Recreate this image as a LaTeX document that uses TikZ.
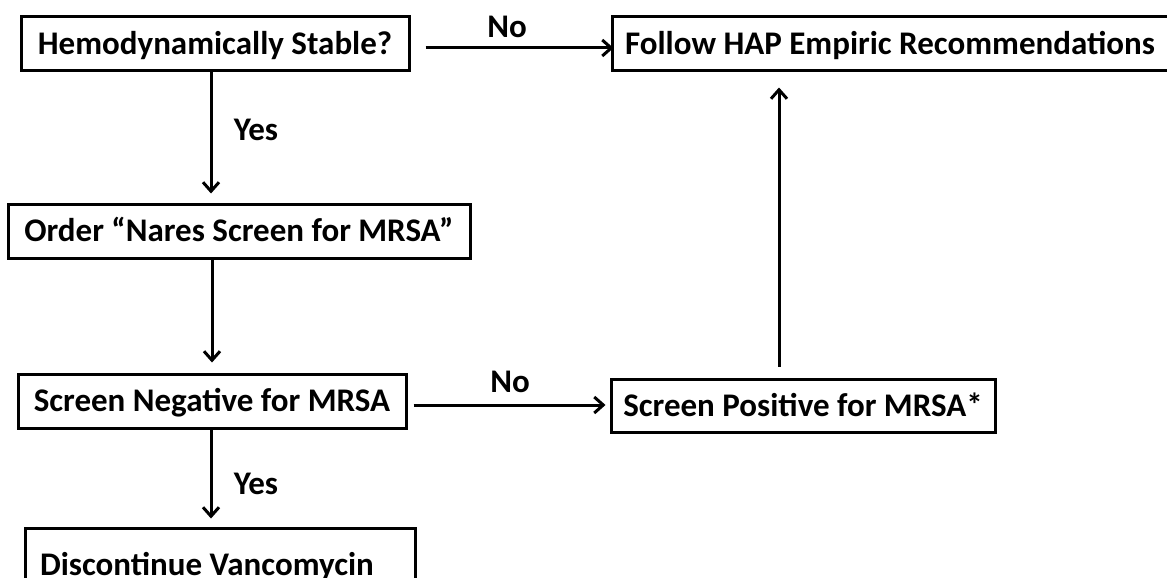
\documentclass[tikz,border=0pt]{standalone}
\usepackage{fontspec}
\setmainfont{Carlito}
\usetikzlibrary{arrows.meta}
\newcommand\flowfont{\fontsize{33}{38}\selectfont\bfseries}
\begin{document}
\begin{tikzpicture}[x=1pt,y=-1pt,
  box/.style={draw, line width=3pt, rectangle, inner sep=0pt,
    minimum height=54pt, font=\flowfont, text height=21pt, text depth=0pt},
  lbl/.style={inner sep=0pt, font=\flowfont, text height=21pt, text depth=0pt},
  arr/.style={line width=3pt,
    -{Straight Barb[length=9pt,width=16pt,line width=3pt]}}]
\useasboundingbox (0,0) rectangle (1167,578);

% decision and action boxes
\node[box, minimum width=388pt] (b1) at (215,44) {Hemodynamically Stable?};
\node[box, minimum width=556pt] (b2) at (890,44) {Follow HAP Empiric Recommendations};
\node[box, minimum width=462pt] (b3) at (239,231) {Order “Nares Screen for MRSA”};
\node[box, minimum width=388pt] (b4) at (212,401) {Screen Negative for MRSA};
\node[box, minimum width=384pt, minimum height=53pt] (b5) at (803,405.5) {Screen Positive for MRSA*};
\node[box, inner xsep=15pt, minimum height=73pt] (b6) at (220,564.5)
  {\makebox[360pt][l]{Discontinue Vancomycin}};

% connectors
\draw[arr, shorten >=12pt] ([xshift=15pt,yshift=-4pt]b1.east) -- ([xshift=15pt,yshift=-4pt]b1.east -| b2.west);
\draw[arr, shorten >=9pt] ([xshift=-4pt]b1.south) -- ([xshift=-4pt]b1.south |- b3.north);
\draw[arr, shorten >=10pt] ([xshift=-27pt]b3.south) -- ([xshift=-27pt]b3.south |- b4.north);
\draw[arr, shorten >=8pt] ([xshift=-1pt]b4.south) -- ([xshift=-1pt]b4.south |- b6.north);
\draw[arr, shorten >=10pt] ([xshift=6pt,yshift=-4pt]b4.east) -- ([xshift=6pt,yshift=-4pt]b4.east -| b5.west);
\draw[arr, shorten <=11pt, shorten >=15pt] ([xshift=-24pt]b5.north) -- ([xshift=-24pt]b5.north |- b2.south);

% branch labels
\node[lbl] (no1) at (507,27) {No};
\node[lbl] (no2) at (510,382) {No};
\node[lbl] (yes1) at (256,130) {Yes};
\node[lbl] (yes2) at (256,484) {Yes};
\end{tikzpicture}
\end{document}
